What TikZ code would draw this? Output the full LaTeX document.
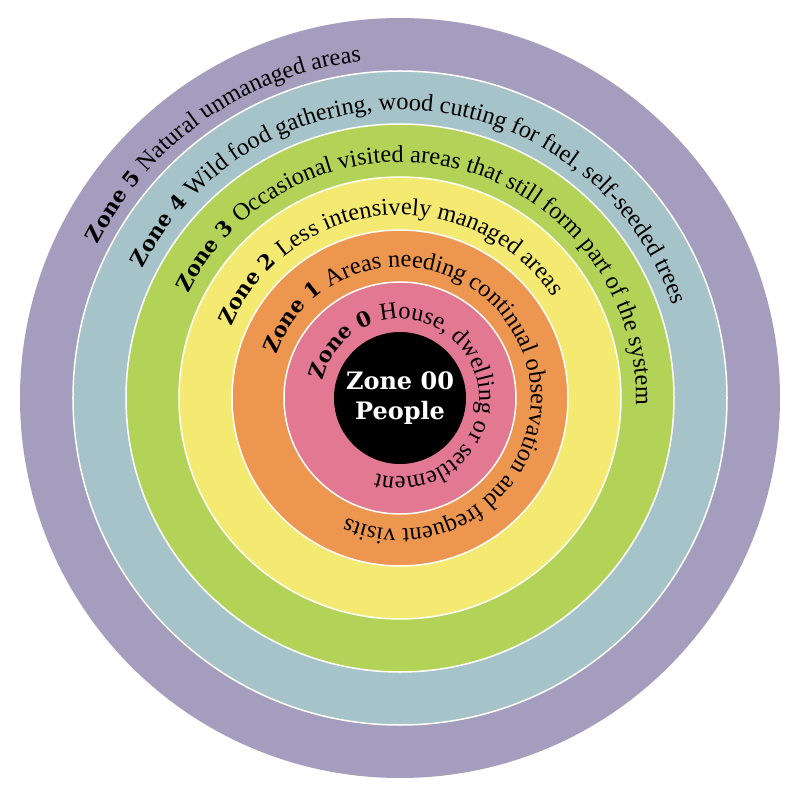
\documentclass[tikz,border=0pt]{standalone}
\usepackage{fontspec}
\setmainfont{Liberation Serif}
\newfontfamily\zonefont{DejaVu Serif}
\usetikzlibrary{decorations.text}
\definecolor{zfive}{RGB}{165,157,190}
\definecolor{zfour}{RGB}{165,195,201}
\definecolor{zthree}{RGB}{179,211,88}
\definecolor{ztwo}{RGB}{244,234,114}
\definecolor{zone}{RGB}{237,150,80}
\definecolor{zzero}{RGB}{226,120,146}
\newcommand\ringfont{\fontsize{24.3pt}{30pt}\selectfont\mdseries}
\newcommand\zonelabel{\zonefont\fontsize{21pt}{30pt}\selectfont\bfseries}
\tikzset{
  ring/.style={draw=white, line width=1.5pt},
  centertext/.style={text=white, font=\zonefont\fontsize{24pt}{30pt}\selectfont\bfseries, anchor=base, inner sep=0pt},
}
\begin{document}
\begin{tikzpicture}
\useasboundingbox (-400pt,-402pt) rectangle (400pt,398pt);
\fill[zfive] (0,0) circle[radius=380pt];
\filldraw[ring, fill=zfour] (0,0) circle[radius=327pt];
\filldraw[ring, fill=zthree] (0,0) circle[radius=274pt];
\filldraw[ring, fill=ztwo] (0,0) circle[radius=221pt];
\filldraw[ring, fill=zone] (0,0) circle[radius=168pt];
\filldraw[ring, fill=zzero] (0,0) circle[radius=116pt];
\fill[black] (0,0) circle[radius=66pt];

\path[decorate, decoration={text along path, text align=left,
  text={|\zonelabel|Zone 5 |\ringfont|Natural unmanaged areas}}]
  (153:339pt) arc[start angle=153, end angle=-150, radius=339pt];
\path[decorate, decoration={text along path, text align=left,
  text={|\zonelabel|Zone 4 |\ringfont|Wild food gathering, wood cutting for fuel, self-seeded trees}}]
  (153.2:288pt) arc[start angle=153.2, end angle=-150, radius=288pt];
\path[decorate, decoration={text along path, text align=left,
  text={|\zonelabel|Zone 3 |\ringfont|Occasional visited areas that still form part of the system}}]
  (153.7:236pt) arc[start angle=153.7, end angle=-150, radius=236pt];
\path[decorate, decoration={text along path, text align=left,
  text={|\zonelabel|Zone 2 |\ringfont|Less intensively managed areas}}]
  (157:183pt) arc[start angle=157, end angle=-150, radius=183pt];
\path[decorate, decoration={text along path, text align=left,
  text={|\zonelabel|Zone 1 |\ringfont|Areas needing continual observation and frequent visits}}]
  (160.7:131pt) arc[start angle=160.7, end angle=-160, radius=131pt];
\path[decorate, decoration={text along path, text align=left,
  text={|\zonelabel|Zone 0 |\ringfont|House, dwelling or settlement}}]
  (167.3:79pt) arc[start angle=167.3, end angle=-170, radius=79pt];

\node[centertext] (zoo) at (0pt,8pt) {Zone 00};
\node[centertext] (people) at (0pt,-22pt) {People};
\end{tikzpicture}
\end{document}
